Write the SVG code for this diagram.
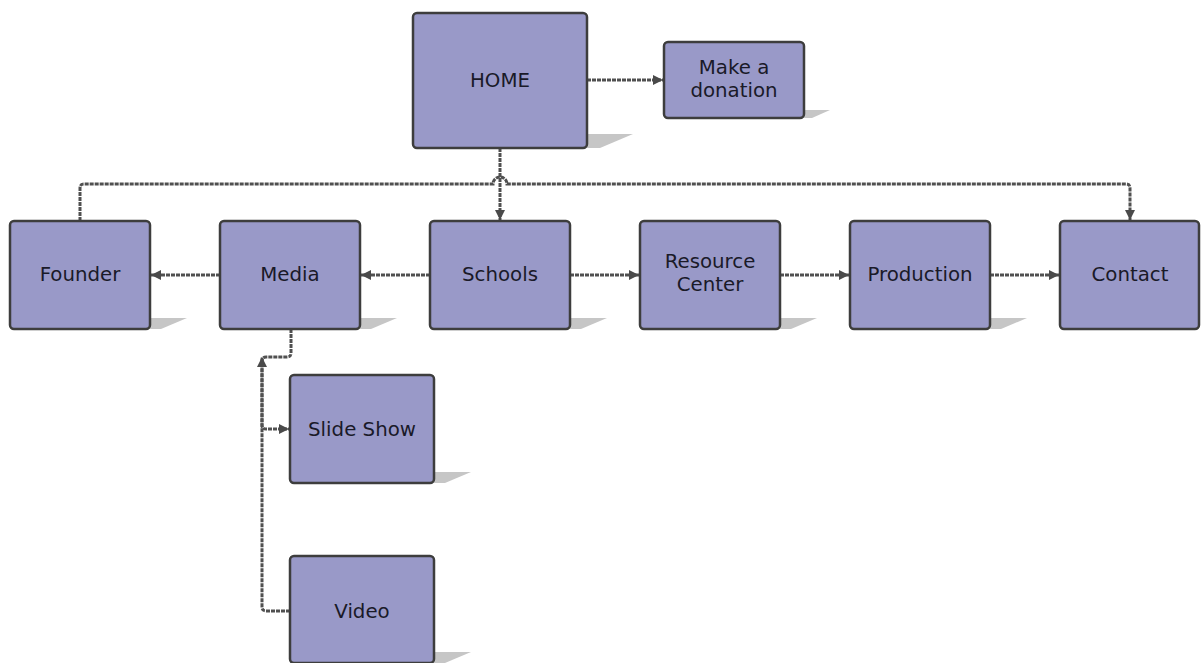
<svg xmlns="http://www.w3.org/2000/svg" width="1201" height="663" viewBox="0 0 1201 663">
<style>
.box{fill:#9999c8;stroke:#3d3d3d;stroke-width:2.5}
.sh{fill:#c6c6c6}
.t{font-family:"DejaVu Sans",Verdana,sans-serif;font-size:19.8px;fill:#1a1a28;text-anchor:middle}
.c{fill:none;stroke:#505050;stroke-width:3;stroke-dasharray:4 1}
</style>
<defs>
<marker id="ah" viewBox="0 0 10 10" refX="10" refY="5" markerWidth="11" markerHeight="10" markerUnits="userSpaceOnUse" orient="auto">
<path d="M0,0 L10,5 L0,10 Z" fill="#4a4a4a"/>
</marker>
</defs>
<rect width="1201" height="663" fill="#ffffff"/>
<g id="connectors">
<path class="c" d="M587 80 H663" marker-end="url(#ah)"/>
<path class="c" d="M500 148 V220" marker-end="url(#ah)"/>
<path class="c" d="M80 221 V188 Q80 184 84 184 H493 A7 7 0 0 1 507 184 H1126 Q1130 184 1130 188 V220" marker-end="url(#ah)"/>
<path class="c" d="M430 275 H361" marker-end="url(#ah)"/>
<path class="c" d="M220 275 H151" marker-end="url(#ah)"/>
<path class="c" d="M570 275 H639" marker-end="url(#ah)"/>
<path class="c" d="M780 275 H849" marker-end="url(#ah)"/>
<path class="c" d="M990 275 H1059" marker-end="url(#ah)"/>
<path class="c" d="M291 329 V353 Q291 357 287 357 H266 Q262 357 262 361 V425 Q262 429 266 429 H289" marker-end="url(#ah)"/>
<path class="c" d="M290 611 H266 Q262 611 262 607 V357" marker-end="url(#ah)"/>
</g>
<g id="home">
<polygon class="sh" points="587,134 633,134 600,148 587,148"/>
<rect class="box" x="413" y="13" width="174" height="135" rx="4"/>
<text class="t" x="500" y="87">HOME</text>
</g>
<g id="donation">
<polygon class="sh" points="804,110 830,110 812,118 804,118"/>
<rect class="box" x="664" y="42" width="140" height="76" rx="4"/>
<text class="t" x="734" y="74">Make a</text>
<text class="t" x="734" y="97">donation</text>
</g>
<g id="founder">
<polygon class="sh" points="150,318 187,318 161,329 150,329"/>
<rect class="box" x="10" y="221" width="140" height="108" rx="4"/>
<text class="t" x="80" y="281">Founder</text>
</g>
<g id="media">
<polygon class="sh" points="360,318 397,318 371,329 360,329"/>
<rect class="box" x="220" y="221" width="140" height="108" rx="4"/>
<text class="t" x="290" y="281">Media</text>
</g>
<g id="schools">
<polygon class="sh" points="570,318 607,318 581,329 570,329"/>
<rect class="box" x="430" y="221" width="140" height="108" rx="4"/>
<text class="t" x="500" y="281">Schools</text>
</g>
<g id="resource-center">
<polygon class="sh" points="780,318 817,318 791,329 780,329"/>
<rect class="box" x="640" y="221" width="140" height="108" rx="4"/>
<text class="t" x="710" y="268">Resource</text>
<text class="t" x="710" y="291">Center</text>
</g>
<g id="production">
<polygon class="sh" points="990,318 1027,318 1001,329 990,329"/>
<rect class="box" x="850" y="221" width="140" height="108" rx="4"/>
<text class="t" x="920" y="281">Production</text>
</g>
<g id="contact">
<rect class="box" x="1060" y="221" width="139" height="108" rx="4"/>
<text class="t" x="1130" y="281">Contact</text>
</g>
<g id="slide-show">
<polygon class="sh" points="434,472 471,472 445,483 434,483"/>
<rect class="box" x="290" y="375" width="144" height="108" rx="4"/>
<text class="t" x="362" y="436">Slide Show</text>
</g>
<g id="video">
<polygon class="sh" points="434,652 471,652 445,663 434,663"/>
<rect class="box" x="290" y="556" width="144" height="107" rx="4"/>
<text class="t" x="362" y="618">Video</text>
</g>
</svg>
